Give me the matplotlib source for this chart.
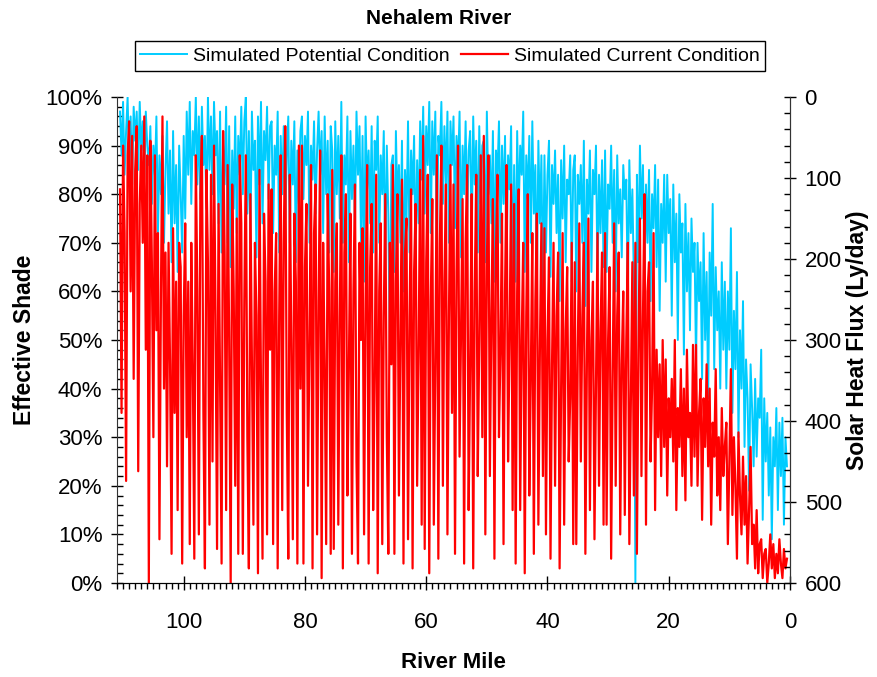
#Nehalem River 有效遮阴 (Effective Shade) 沿河里程变化
import numpy as np
import matplotlib.pyplot as plt
from matplotlib.ticker import MultipleLocator, FuncFormatter

plt.rcParams['font.family'] = ['Liberation Sans', 'DejaVu Sans']

# river mile stations, every 0.25 mile from 110.5 down to 0.5
river_mile = np.round(np.arange(110.5, 0.4, -0.25), 2)

# Simulated Potential Condition (%), 20 values per 5 miles
potential = [
    97, 88, 99, 84, 93, 100, 86, 96, 82, 98, 91, 97, 85, 99, 89, 95, 83, 97, 90, 86,
    94, 78, 90, 84, 96, 72, 88, 80, 92, 70, 85, 95, 76, 89, 66, 93, 74, 86, 64, 90,
    80, 68, 92, 75, 97, 84, 99, 78, 93, 88, 100, 82, 96, 79, 98, 86, 92, 77, 100, 85,
    96, 80, 99, 88, 93, 74, 97, 68, 90, 82, 98, 70, 94, 65, 89, 77, 96, 72, 92, 84,
    98, 80, 95, 100, 76, 93, 70, 97, 85, 91, 67, 96, 82, 99, 74, 93, 87, 98, 79, 94,
    95, 72, 90, 84, 97, 68, 92, 80, 94, 75, 88, 96, 70, 91, 82, 95, 66, 89, 78, 93,
    96, 79, 92, 86, 97, 70, 90, 83, 95, 76, 89, 97, 84, 93, 72, 96, 80, 91, 68, 94,
    89, 64, 95, 80, 92, 75, 99, 70, 88, 82, 96, 66, 93, 79, 90, 73, 97, 84, 94, 70,
    92, 62, 96, 81, 89, 74, 94, 68, 91, 85, 96, 70, 88, 80, 93, 64, 90, 76, 48, 86,
    88, 64, 93, 78, 86, 70, 91, 60, 85, 75, 95, 68, 89, 80, 92, 66, 87, 74, 95, 83,
    98, 76, 94, 86, 99, 72, 95, 84, 97, 67, 92, 88, 99, 78, 94, 82, 97, 70, 95, 86,
    96, 73, 92, 85, 97, 67, 90, 80, 95, 74, 89, 93, 70, 96, 82, 91, 68, 94, 78, 90,
    91, 66, 97, 80, 88, 74, 93, 62, 89, 84, 95, 70, 90, 78, 92, 64, 88, 81, 94, 60,
    86, 62, 93, 76, 90, 84, 97, 64, 88, 79, 92, 70, 95, 76, 86, 60, 91, 74, 88, 58,
    88, 68, 84, 91, 63, 86, 78, 89, 72, 84, 58, 87, 75, 90, 66, 83, 80, 88, 62, 85,
    88, 60, 84, 78, 86, 70, 91, 57, 83, 76, 89, 64, 85, 80, 90, 62, 84, 72, 87, 65,
    89, 64, 82, 77, 90, 70, 85, 60, 88, 74, 81, 67, 86, 79, 83, 58, 87, 72, 81, 62,
    0, 84, 66, 90, 75, 86, 62, 82, 70, 85, 58, 80, 73, 86, 65, 83, 56, 78, 70, 84,
    62, 84, 72, 79, 55, 82, 66, 76, 50, 80, 68, 74, 47, 78, 60, 72, 52, 75, 64, 70,
    45, 70, 58, 66, 42, 72, 50, 64, 38, 68, 55, 78, 44, 65, 52, 60, 40, 66, 48, 62,
    40, 60, 48, 73, 35, 56, 44, 64, 30, 52, 40, 58, 28, 46, 38, 19, 45, 36, 24, 42,
    26, 38, 34, 48, 13, 38, 25, 35, 18, 32, 9, 30, 24, 36, 15, 33, 22, 34, 12, 30,
    24]

# Simulated Current Condition (%)
current = [
    81, 35, 90, 72, 21, 88, 95, 60, 92, 42, 85, 94, 23, 78, 90, 70, 96, 48, 88, 0,
    91, 66, 30, 88, 52, 72, 9, 60, 96, 40, 68, 24, 70, 45, 6, 73, 35, 62, 15, 70,
    65, 4, 55, 74, 30, 62, 8, 70, 45, 5, 88, 60, 10, 80, 92, 35, 3, 85, 66, 12,
    84, 25, 90, 55, 7, 78, 40, 4, 93, 68, 15, 86, 50, 0, 82, 60, 20, 75, 6, 88,
    74, 6, 58, 88, 30, 3, 80, 45, 12, 70, 55, 2, 85, 40, 5, 76, 62, 10, 82, 48,
    81, 8, 60, 72, 3, 55, 88, 15, 70, 94, 35, 5, 84, 50, 9, 76, 62, 4, 90, 40,
    90, 4, 65, 78, 20, 50, 86, 3, 72, 82, 10, 58, 89, 1, 70, 45, 8, 80, 60, 6,
    85, 7, 62, 74, 12, 55, 88, 3, 68, 80, 18, 45, 76, 6, 60, 82, 25, 4, 70, 50,
    73, 10, 58, 86, 4, 65, 78, 15, 42, 84, 2, 60, 74, 8, 55, 80, 30, 6, 70, 45,
    86, 6, 62, 80, 18, 50, 83, 4, 68, 75, 9, 55, 81, 3, 64, 78, 20, 48, 85, 12,
    92, 7, 66, 84, 2, 58, 79, 12, 45, 88, 5, 70, 90, 20, 62, 82, 10, 55, 86, 35,
    82, 6, 64, 90, 26, 52, 79, 4, 70, 86, 15, 45, 80, 3, 60, 84, 22, 50, 88, 30,
    92, 10, 65, 88, 22, 55, 79, 5, 68, 84, 30, 48, 76, 8, 60, 86, 25, 50, 82, 15,
    78, 4, 60, 81, 15, 50, 70, 2, 55, 80, 18, 42, 72, 6, 58, 76, 12, 48, 74, 22,
    73, 10, 50, 67, 5, 45, 70, 20, 55, 68, 3, 40, 72, 12, 52, 65, 25, 38, 70, 8,
    66, 8, 48, 74, 25, 55, 70, 6, 45, 75, 15, 50, 62, 9, 40, 72, 20, 52, 68, 12,
    72, 12, 50, 65, 5, 42, 74, 20, 55, 68, 10, 45, 60, 14, 50, 70, 8, 38, 66, 18,
    70, 6, 48, 75, 22, 55, 80, 12, 60, 66, 25, 40, 72, 15, 48, 30, 45, 22, 50, 28,
    46, 18, 38, 30, 42, 25, 50, 15, 36, 28, 44, 22, 40, 17, 48, 30, 35, 20, 49, 26,
    49, 20, 35, 42, 13, 38, 28, 45, 24, 40, 12, 33, 26, 44, 18, 30, 15, 36, 22, 28,
    33, 8, 25, 44, 14, 30, 20, 5, 31, 18, 10, 26, 12, 22, 4, 15, 28, 8, 12, 3,
    15, 2, 8, 9, 1, 6, 7, 0, 4, 10, 3, 8, 1, 6, 2, 9, 4, 1, 7, 3,
    5]

fig = plt.figure(figsize=(8.78, 6.77), dpi=100)
ax = fig.add_axes([117/878, 1-583/677, 673/878, 486/677])
l1, = ax.plot(river_mile, potential, color='#00CCFF', lw=1.4)
l2, = ax.plot(river_mile, current, color='#FF0000', lw=1.6)

ax.set_xlim(111, 0)
ax.set_ylim(0, 100)
ax.xaxis.set_major_locator(MultipleLocator(20))
ax.xaxis.set_minor_locator(MultipleLocator(1))
ax.yaxis.set_major_locator(MultipleLocator(10))
ax.yaxis.set_minor_locator(MultipleLocator(2))
ax.yaxis.set_major_formatter(FuncFormatter(lambda v, p: '%d%%' % v))
ax.spines['top'].set_visible(False)
for s in ax.spines.values():
    s.set_color('#333333')

ax.tick_params(axis='y', which='major', direction='inout', length=9, width=1, pad=6, labelsize=16)
ax.tick_params(axis='y', which='minor', direction='in', length=4, width=1)
ax.tick_params(axis='x', which='major', direction='inout', length=10, width=1, pad=16, labelsize=16)
ax.tick_params(axis='x', which='minor', direction='out', length=4, width=1)

ax2 = ax.twinx()
ax2.set_ylim(600, 0)
ax2.yaxis.set_major_locator(MultipleLocator(100))
ax2.yaxis.set_minor_locator(MultipleLocator(20))
ax2.spines['top'].set_visible(False)
ax2.spines['left'].set_visible(False)
ax2.spines['right'].set_color('#333333')
ax2.tick_params(axis='y', which='major', direction='inout', length=9, width=1, pad=6, labelsize=16)
ax2.tick_params(axis='y', which='minor', direction='in', length=4, width=1)

ax.set_ylabel('Effective Shade', fontsize=16.5, fontweight='bold', va='center')
ax.yaxis.set_label_coords(-0.138, 0.5)
ax.set_xlabel('River Mile', fontsize=16, fontweight='bold', va='center')
ax.xaxis.set_label_coords(0.5, -0.163)
ax2.set_ylabel('Solar Heat Flux (Ly/day)', fontsize=16.5, fontweight='bold', va='center')
ax2.yaxis.set_label_coords(1.101, 0.5)

fig.text(439/878, 1-19/677, 'Nehalem River', fontsize=15, fontweight='bold', ha='center', va='center')
leg = fig.legend([l1, l2], ['Simulated Potential Condition', 'Simulated Current Condition'],
                 loc='center', bbox_to_anchor=(450/878, 1-56/677), ncol=2, fontsize=14,
                 frameon=True, fancybox=False, edgecolor='black', framealpha=1,
                 handlelength=2.4, handletextpad=0.3, columnspacing=0.6, borderpad=0.3)
leg.get_frame().set_linewidth(1)

plt.savefig('out.png', dpi=100)
